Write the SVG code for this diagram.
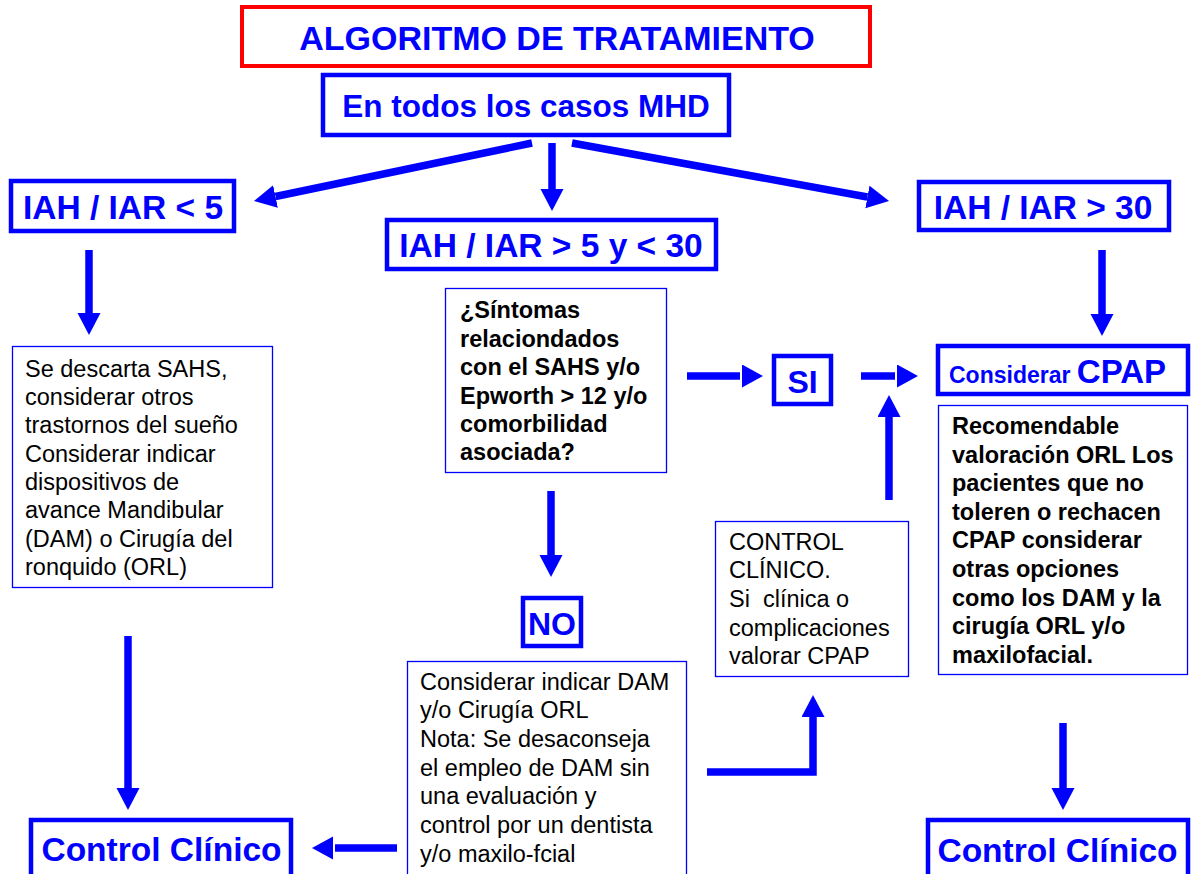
<svg xmlns="http://www.w3.org/2000/svg" width="1193" height="874" viewBox="0 0 1193 874">
<style>
.bx{fill:#fff;stroke:#0000ff;stroke-width:4.5}
.tb{fill:#fff;stroke:#0000ff;stroke-width:1.3}
.hd{font-family:"Liberation Sans",Arial,sans-serif;font-weight:bold;fill:#0000ff;text-anchor:middle}
.bt{font-family:"Liberation Sans",Arial,sans-serif;font-size:23.5px;fill:#000}
.bb{font-family:"Liberation Sans",Arial,sans-serif;font-size:23.5px;font-weight:bold;fill:#000}
.cn{fill:none;stroke:#0000ff;stroke-width:7.5}
</style>
<defs>
<marker id="ah" markerUnits="userSpaceOnUse" markerWidth="24" markerHeight="24" refX="0" refY="11.5" orient="auto" viewBox="0 0 24 24"><path d="M0,0 L22,11.5 L0,23 Z" fill="#0000ff"/></marker>
<marker id="ahg" markerUnits="userSpaceOnUse" markerWidth="26" markerHeight="24" refX="-2" refY="11.5" orient="auto" viewBox="-2 0 26 24"><path d="M0,0 L21,11.5 L0,23 Z" fill="#0000ff"/></marker>
</defs>
<g id="connectors">
<line class="cn" x1="532" y1="143" x2="275.5" y2="196.5" marker-end="url(#ah)"/>
<line class="cn" x1="552" y1="143" x2="552" y2="189" marker-end="url(#ah)"/>
<line class="cn" x1="572" y1="143" x2="867.4" y2="197" marker-end="url(#ah)"/>
<line class="cn" x1="89" y1="250" x2="89" y2="313" marker-end="url(#ah)"/>
<line class="cn" x1="1102" y1="250" x2="1102" y2="314" marker-end="url(#ah)"/>
<line class="cn" x1="551" y1="491" x2="551" y2="555" marker-end="url(#ah)"/>
<line class="cn" x1="687" y1="376" x2="740" y2="376" marker-end="url(#ahg)"/>
<line class="cn" x1="861" y1="376" x2="895" y2="376" marker-end="url(#ahg)"/>
<line class="cn" x1="889" y1="500" x2="889" y2="417" marker-end="url(#ah)"/>
<path class="cn" d="M707,772 H813 V717" stroke-linejoin="miter" marker-end="url(#ah)"/>
<line class="cn" x1="128" y1="636" x2="128" y2="788" marker-end="url(#ah)"/>
<line class="cn" x1="1063" y1="723" x2="1063" y2="788" marker-end="url(#ah)"/>
<line class="cn" x1="397" y1="848" x2="335" y2="848" marker-end="url(#ahg)"/>
</g>
<g id="title">
<rect x="242" y="7" width="628" height="59" fill="#fff" stroke="#ff0000" stroke-width="4"/>
<text class="hd" x="557" y="50" font-size="34">ALGORITMO DE TRATAMIENTO</text>
</g>
<g id="mhd">
<rect class="bx" x="323" y="75" width="406" height="60" stroke-width="4"/>
<text class="hd" x="526" y="117" font-size="31.5">En todos los casos MHD</text>
</g>
<g id="iah-lt5">
<rect class="bx" x="11" y="181" width="223" height="50"/>
<text class="hd" x="123" y="219" font-size="33.5">IAH / IAR &lt; 5</text>
</g>
<g id="iah-5-30">
<rect class="bx" x="387" y="220" width="329" height="49"/>
<text class="hd" x="551" y="257" font-size="33.5">IAH / IAR &gt; 5 y &lt; 30</text>
</g>
<g id="iah-gt30">
<rect class="bx" x="919" y="182" width="250" height="48"/>
<text class="hd" x="1043" y="219" font-size="33.5">IAH / IAR &gt; 30</text>
</g>
<g id="descarta">
<rect class="tb" x="12.5" y="346.5" width="260" height="241"/>
<text class="bt" x="25" y="377">Se descarta SAHS,</text>
<text class="bt" x="25" y="405">considerar otros</text>
<text class="bt" x="25" y="433">trastornos del sueño</text>
<text class="bt" x="25" y="462">Considerar indicar</text>
<text class="bt" x="25" y="490">dispositivos de</text>
<text class="bt" x="25" y="518">avance Mandibular</text>
<text class="bt" x="25" y="547">(DAM) o Cirugía del</text>
<text class="bt" x="25" y="575">ronquido (ORL)</text>
</g>
<g id="pregunta">
<rect class="tb" x="445.5" y="288.5" width="221" height="184"/>
<text class="bb" x="460" y="318">¿Síntomas</text>
<text class="bb" x="460" y="347">relaciondados</text>
<text class="bb" x="460" y="375">con el SAHS y/o</text>
<text class="bb" x="460" y="404">Epworth &gt; 12 y/o</text>
<text class="bb" x="460" y="432">comorbilidad</text>
<text class="bb" x="460" y="460">asociada?</text>
</g>
<g id="si">
<rect class="bx" x="774" y="356" width="57" height="48" stroke-width="4"/>
<text class="hd" x="802.5" y="393" font-size="32">SI</text>
</g>
<g id="cpap">
<rect class="bx" x="938" y="346" width="250" height="48"/>
<text x="949" y="383" font-family="Liberation Sans, Arial, sans-serif" font-weight="bold" fill="#0000ff" font-size="23">Considerar <tspan font-size="33">CPAP</tspan></text>
</g>
<g id="recomendable">
<rect class="tb" x="938.5" y="405.5" width="249" height="269"/>
<text class="bb" x="952" y="434">Recomendable</text>
<text class="bb" x="952" y="463">valoración ORL Los</text>
<text class="bb" x="952" y="491">pacientes que no</text>
<text class="bb" x="952" y="520">toleren o rechacen</text>
<text class="bb" x="952" y="548">CPAP considerar</text>
<text class="bb" x="952" y="577">otras opciones</text>
<text class="bb" x="952" y="606">como los DAM y la</text>
<text class="bb" x="952" y="634">cirugía ORL y/o</text>
<text class="bb" x="952" y="663">maxilofacial.</text>
</g>
<g id="control-clinico-box">
<rect class="tb" x="715.5" y="521.5" width="193" height="155"/>
<text class="bt" x="729" y="550">CONTROL</text>
<text class="bt" x="729" y="578">CLÍNICO.</text>
<text class="bt" x="729" y="607" xml:space="preserve">Si  clínica o</text>
<text class="bt" x="729" y="636">complicaciones</text>
<text class="bt" x="729" y="664">valorar CPAP</text>
</g>
<g id="no">
<rect class="bx" x="523" y="598" width="58" height="48" stroke-width="4"/>
<text class="hd" x="552" y="635" font-size="32">NO</text>
</g>
<g id="dam">
<rect class="tb" x="407.5" y="661.5" width="279" height="230"/>
<text class="bt" x="420" y="690">Considerar indicar DAM</text>
<text class="bt" x="420" y="718">y/o Cirugía ORL</text>
<text class="bt" x="420" y="747">Nota: Se desaconseja</text>
<text class="bt" x="420" y="776">el empleo de DAM sin</text>
<text class="bt" x="420" y="804">una evaluación y</text>
<text class="bt" x="420" y="833">control por un dentista</text>
<text class="bt" x="420" y="862">y/o maxilo-fcial</text>
</g>
<g id="control-izq">
<rect class="bx" x="31" y="820" width="260" height="80"/>
<text class="hd" x="161.5" y="861" font-size="33.5">Control Clínico</text>
</g>
<g id="control-der">
<rect class="bx" x="928" y="820" width="260" height="80"/>
<text class="hd" x="1057.5" y="862" font-size="33.5">Control Clínico</text>
</g>
</svg>
